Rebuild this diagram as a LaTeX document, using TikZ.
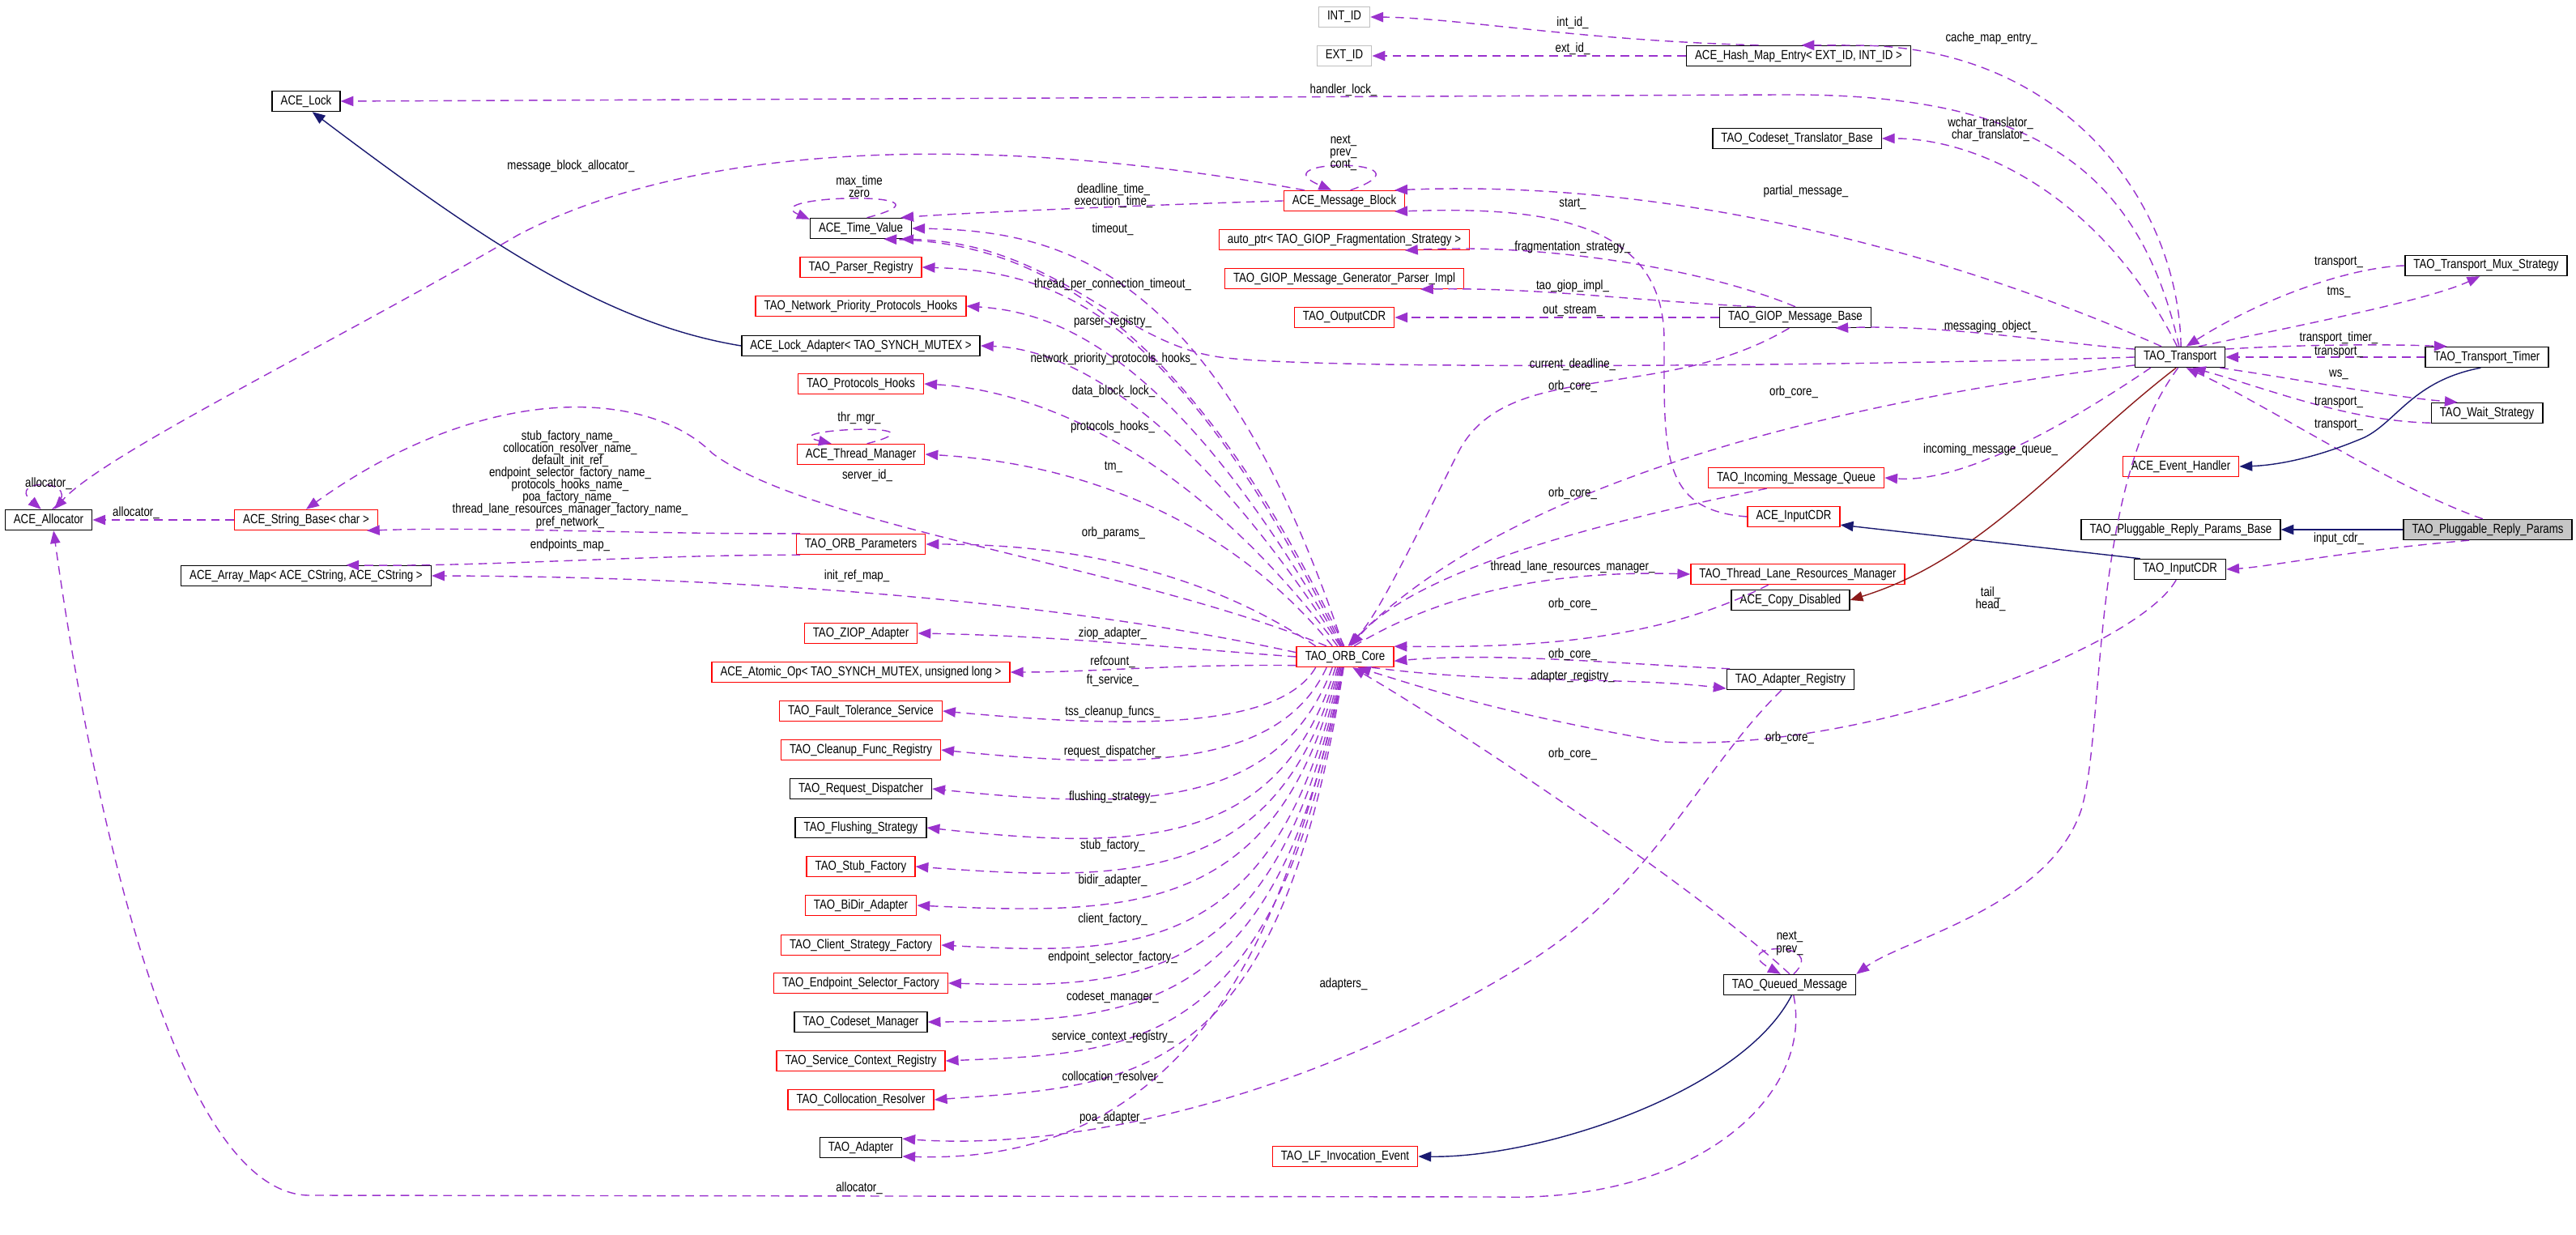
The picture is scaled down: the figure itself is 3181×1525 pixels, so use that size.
\documentclass[tikz,border=0pt]{standalone}
\usepackage{fontspec}
\setmainfont{Liberation Sans}[FakeStretch=0.82]
\usetikzlibrary{arrows.meta}
\definecolor{usec}{HTML}{9A32CD}
\definecolor{inh}{HTML}{191970}
\definecolor{priv}{HTML}{8B1A1A}
\tikzset{
 box/.style={draw=black, line width=0.4pt, fill=white, inner xsep=3pt, inner ysep=0pt, minimum height=0.25cm, font=\fontsize{4.6}{5}\selectfont},
 rbox/.style={box, draw=red},
 gbox/.style={box, draw=gray!50},
 cur/.style={box, fill=gray!45},
 lbl/.style={inner sep=0pt, font=\fontsize{4.6}{4.3}\selectfont, align=center},
 uses/.style={draw=usec, line width=0.4pt, dash pattern=on 3pt off 2pt, -{Triangle[length=4.5pt,width=3.5pt]}},
 isa/.style={draw=inh, line width=0.4pt, -{Triangle[length=4.5pt,width=3.5pt]}},
 pisa/.style={draw=priv, line width=0.4pt, -{Triangle[length=4.5pt,width=3.5pt]}}
}
\AtBeginDocument{\catcode`\_=12 }
\begin{document}
\begin{tikzpicture}[x=0.01cm,y=-0.01cm]
\useasboundingbox (0,0) rectangle (3181,1525);
% nodes
\node[gbox] (INT) at (1660,21) {INT_ID};
\node[gbox] (EXT) at (1660,69) {EXT_ID};
\node[box] (hme) at (2221,69) {ACE_Hash_Map_Entry< EXT_ID, INT_ID >};
\node[box] (lock) at (378,125) {ACE_Lock};
\node[box] (ctb) at (2219,171) {TAO_Codeset_Translator_Base};
\node[rbox] (mb) at (1660,248) {ACE_Message_Block};
\node[box] (tv) at (1063,282) {ACE_Time_Value};
\node[rbox] (ap) at (1660,296) {auto_ptr< TAO_GIOP_Fragmentation_Strategy >};
\node[rbox] (pr) at (1063,330) {TAO_Parser_Registry};
\node[rbox] (gen) at (1660,344) {TAO_GIOP_Message_Generator_Parser_Impl};
\node[rbox] (npph) at (1063,378) {TAO_Network_Priority_Protocols_Hooks};
\node[rbox] (ocdr) at (1660,392) {TAO_OutputCDR};
\node[box] (gmb) at (2217,392) {TAO_GIOP_Message_Base};
\node[box] (la) at (1063,427) {ACE_Lock_Adapter< TAO_SYNCH_MUTEX >};
\node[box] (tr) at (2692,441) {TAO_Transport};
\node[box] (mux) at (3070,328) {TAO_Transport_Mux_Strategy};
\node[box] (tim) at (3071,441) {TAO_Transport_Timer};
\node[rbox] (ph) at (1063,474) {TAO_Protocols_Hooks};
\node[box] (ws) at (3071,510) {TAO_Wait_Strategy};
\node[rbox] (tm) at (1063,561) {ACE_Thread_Manager};
\node[rbox] (eh) at (2693,576) {ACE_Event_Handler};
\node[rbox] (imq) at (2218,590) {TAO_Incoming_Message_Queue};
\node[rbox] (aicdr) at (2215,638) {ACE_InputCDR};
\node[box] (alloc) at (60,642) {ACE_Allocator};
\node[rbox] (sb) at (378,642) {ACE_String_Base< char >};
\node[box] (prb) at (2693,654) {TAO_Pluggable_Reply_Params_Base};
\node[cur] (prp) at (3072,654) {TAO_Pluggable_Reply_Params};
\node[rbox] (op) at (1063,672) {TAO_ORB_Parameters};
\node[box] (icdr) at (2692,703) {TAO_InputCDR};
\node[rbox] (tlrm) at (2220,709) {TAO_Thread_Lane_Resources_Manager};
\node[box] (am) at (378,711) {ACE_Array_Map< ACE_CString, ACE_CString >};
\node[box] (cd) at (2211,741) {ACE_Copy_Disabled};
\node[rbox] (ziop) at (1063,782) {TAO_ZIOP_Adapter};
\node[rbox] (orb) at (1661,811) {TAO_ORB_Core};
\node[rbox] (atom) at (1063,830) {ACE_Atomic_Op< TAO_SYNCH_MUTEX, unsigned long >};
\node[box] (ar) at (2211,839) {TAO_Adapter_Registry};
\node[rbox] (ft) at (1063,878) {TAO_Fault_Tolerance_Service};
\node[rbox] (cfr) at (1063,926) {TAO_Cleanup_Func_Registry};
\node[box] (rd) at (1063,974) {TAO_Request_Dispatcher};
\node[box] (fs) at (1063,1022) {TAO_Flushing_Strategy};
\node[rbox] (sf) at (1063,1070) {TAO_Stub_Factory};
\node[rbox] (bd) at (1063,1118) {TAO_BiDir_Adapter};
\node[rbox] (csf) at (1063,1167) {TAO_Client_Strategy_Factory};
\node[rbox] (esf) at (1063,1214) {TAO_Endpoint_Selector_Factory};
\node[box] (cm) at (1063,1262) {TAO_Codeset_Manager};
\node[rbox] (scr) at (1063,1310) {TAO_Service_Context_Registry};
\node[rbox] (cr) at (1063,1358) {TAO_Collocation_Resolver};
\node[box] (ad) at (1063,1417) {TAO_Adapter};
\node[box] (qm) at (2210,1216) {TAO_Queued_Message};
\node[rbox] (lf) at (1661,1428) {TAO_LF_Invocation_Event};

% edges
\draw[uses] (hme.165) .. controls (1950,50) and (1800,22) .. (INT.east);
\draw[uses] (hme.west) -- (EXT.east);
\draw[uses] (tr.85) .. controls (2690,250) and (2550,56) .. (2290,56) -- (hme.75);
\draw[uses] (tr.95) .. controls (2640,200) and (2500,115) .. (2200,117) -- (lock.east);
\draw[uses] (tr.105) .. controls (2600,250) and (2450,171) .. (ctb.east);
\draw[uses] (mb.60) .. controls (1780,195) and (1550,195) .. (mb.140);
\draw[uses] (mb.165) .. controls (1200,160) and (850,180) .. (640,290) .. controls (400,430) and (130,560) .. (alloc.62);
\draw[uses] (mb.west) .. controls (1450,252) and (1200,262) .. (tv.15);
\draw[uses] (tv.60) .. controls (1200,235) and (930,240) .. (tv.170);
\draw[uses] (aicdr.west) .. controls (2050,630) and (2055,560) .. (2055,420) .. controls (2055,270) and (1900,255) .. (mb.-12);
\draw[uses] (tr.150) .. controls (2450,330) and (2100,220) .. (mb.12);
\draw[uses] (gmb.north) .. controls (2100,330) and (1900,300) .. (ap.-10);
\draw[uses] (gmb.165) .. controls (2000,370) and (1900,355) .. (gen.-8);
\draw[uses] (gmb.west) -- (ocdr.east);
\draw[uses] (gmb.-120) .. controls (2050,500) and (1860,440) .. (1800,560) .. controls (1730,700) and (1700,760) .. (orb.70);
\draw[uses] (tr.170) .. controls (2550,425) and (2400,400) .. (gmb.-15);
\draw[uses] (tr.west) .. controls (2300,452) and (1600,458) .. (1500,440) .. controls (1380,420) and (1300,300) .. (tv.-15);
\draw[uses] (tr.190) .. controls (2400,480) and (1900,560) .. (orb.75);
\draw[uses] (tr.-160) .. controls (2500,560) and (2400,595) .. (imq.east);
\draw[pisa] (tr.-110) .. controls (2550,560) and (2450,690) .. (cd.east);
\draw[uses] (tr.-100) .. controls (2580,600) and (2600,900) .. (2570,1000) .. controls (2530,1120) and (2350,1160) .. (qm.north east);
\draw[uses] (imq.-160) .. controls (2000,640) and (1750,700) .. (orb.62);
\draw[uses] (orb.50) .. controls (1800,720) and (1950,705) .. (tlrm.west);
\draw[uses] (tlrm.-160) .. controls (2050,790) and (1900,800) .. (orb.12);
\draw[uses] (ar.170) .. controls (2000,820) and (1850,805) .. (orb.-5);
\draw[uses] (orb.-22) .. controls (1850,845) and (2000,835) .. (ar.-172);
\draw[uses] (icdr.-110) .. controls (2640,800) and (2300,930) .. (2054,916) .. controls (1850,880) and (1760,850) .. (orb.-40);
\draw[uses] (qm.north) .. controls (2100,1100) and (1800,900) .. (orb.-55);
\draw[uses] (ar.-130) .. controls (2100,950) and (2050,1080) .. (1900,1180) .. controls (1600,1370) and (1300,1420) .. (ad.12);
\draw[uses] (orb.-100) .. controls (1600,1100) and (1500,1440) .. (ad.-12);
\draw[uses] (qm.-70) .. controls (2240,1350) and (2100,1485) .. (1850,1478) -- (380,1476) .. controls (200,1470) and (100,900) .. (alloc.-65);
\draw[uses] (qm.70) .. controls (2260,1160) and (2130,1165) .. (qm.130);
\draw[isa] (qm.-80) .. controls (2150,1350) and (1900,1430) .. (lf.east);
\draw[uses] (mux.west) .. controls (2900,330) and (2790,370) .. (tr.60);
\draw[uses] (tr.30) .. controls (2850,400) and (3000,370) .. (mux.-120);
\draw[uses] (tr.10) .. controls (2850,425) and (2950,425) .. (tim.165);
\draw[uses] (tim.west) -- (tr.east);
\draw[uses] (tr.-15) .. controls (2850,470) and (2950,490) .. (ws.160);
\draw[uses] (ws.190) .. controls (2900,520) and (2800,480) .. (tr.-40);
\draw[uses] (prp.115) .. controls (2950,600) and (2800,500) .. (tr.-60);
\draw[isa] (tim.-120) .. controls (2980,470) and (2960,520) .. (2920,540) .. controls (2850,570) and (2800,575) .. (eh.east);
\draw[isa] (prp.west) -- (prb.east);
\draw[uses] (prp.-150) .. controls (2900,680) and (2800,700) .. (icdr.east);
\draw[isa] (icdr.165) -- (aicdr.-10);
\draw[isa] (la.west) .. controls (750,400) and (600,300) .. (lock.-60);
\draw[uses] (sb.west) -- (alloc.east);
\draw[uses] (alloc.70) .. controls (110,590) and (5,590) .. (alloc.125);
\draw[uses] (op.170) .. controls (800,660) and (600,650) .. (sb.-10);
\draw[uses] (orb.150) .. controls (1400,700) and (1000,650) .. (880,560) .. controls (800,480) and (600,470) .. (sb.north);
\draw[uses] (op.-170) .. controls (800,685) and (600,700) .. (am.15);
\draw[uses] (orb.175) .. controls (1300,740) and (900,712) .. (am.east);
\draw[uses] (orb.160) .. controls (1450,680) and (1250,672) .. (op.east);
\draw[uses] (orb.140) .. controls (1500,620) and (1300,570) .. (tm.east);
\draw[uses] (tm.60) .. controls (1180,520) and (950,530) .. (tm.160);
\draw[uses] (orb.125) .. controls (1450,530) and (1250,480) .. (ph.east);
\draw[uses] (orb.115) .. controls (1450,480) and (1300,430) .. (la.east);
\draw[uses] (orb.110) .. controls (1450,430) and (1300,385) .. (npph.east);
\draw[uses] (orb.105) .. controls (1450,380) and (1300,335) .. (pr.east);
\draw[uses] (orb.100) .. controls (1500,320) and (1300,285) .. (tv.east);
\draw[uses] (orb.95) .. controls (1450,360) and (1250,300) .. (tv.-25);
\draw[uses] (orb.west) .. controls (1450,800) and (1300,785) .. (ziop.east);
\draw[uses] (orb.190) .. controls (1450,820) and (1350,830) .. (atom.east);
\foreach \n/\a/\c in {ft/200/900, cfr/210/950, rd/220/1000, fs/228/1050, sf/235/1090, bd/240/1130, csf/245/1180, esf/250/1220, cm/255/1260, scr/258/1300, cr/262/1340} {
 \draw[uses] (orb.\a) .. controls (1580,\c) and (1400,\c) .. (\n.east);
}

% labels
\node[lbl] at (1942,28) {int_id_};
\node[lbl] at (1942,60) {ext_id_};
\node[lbl] at (2459,47) {cache_map_entry_};
\node[lbl] at (1659,111) {handler_lock_};
\node[lbl] at (2458,160) {wchar_translator_\\char_translator_};
\node[lbl] at (1659,189) {next_\\prev_\\cont_};
\node[lbl] at (705,205) {message_block_allocator_};
\node[lbl] at (1061,230) {max_time\\zero};
\node[lbl] at (1375,242) {deadline_time_\\execution_time_};
\node[lbl] at (2230,236) {partial_message_};
\node[lbl] at (1942,252) {start_};
\node[lbl] at (1374,283) {timeout_};
\node[lbl] at (1942,305) {fragmentation_strategy_};
\node[lbl] at (2888,324) {transport_};
\node[lbl] at (1374,351) {thread_per_connection_timeout_};
\node[lbl] at (1942,353) {tao_giop_impl_};
\node[lbl] at (2888,361) {tms_};
\node[lbl] at (1942,384) {out_stream_};
\node[lbl] at (1374,397) {parser_registry_};
\node[lbl] at (2458,403) {messaging_object_};
\node[lbl] at (2888,417) {transport_timer_};
\node[lbl] at (2888,435) {transport_};
\node[lbl] at (1375,443) {network_priority_protocols_hooks_};
\node[lbl] at (1942,450) {current_deadline_};
\node[lbl] at (2888,463) {ws_};
\node[lbl] at (1942,477) {orb_core_};
\node[lbl] at (2215,484) {orb_core_};
\node[lbl] at (1375,483) {data_block_lock_};
\node[lbl] at (2888,497) {transport_};
\node[lbl] at (1061,516) {thr_mgr_};
\node[lbl] at (2888,525) {transport_};
\node[lbl] at (1374,527) {protocols_hooks_};
\node[lbl] at (2458,555) {incoming_message_queue_};
\node[lbl] at (1375,577) {tm_};
\node[lbl] at (1071,587) {server_id_};
\node[lbl] at (60,597) {allocator_};
\node[lbl] at (704,592) {stub_factory_name_\\collocation_resolver_name_\\default_init_ref_\\endpoint_selector_factory_name_\\protocols_hooks_name_\\poa_factory_name_\\thread_lane_resources_manager_factory_name_\\pref_network_};
\node[lbl] at (1942,609) {orb_core_};
\node[lbl] at (168,633) {allocator_};
\node[lbl] at (1375,658) {orb_params_};
\node[lbl] at (2888,665) {input_cdr_};
\node[lbl] at (704,673) {endpoints_map_};
\node[lbl] at (1942,700) {thread_lane_resources_manager_};
\node[lbl] at (1058,711) {init_ref_map_};
\node[lbl] at (2458,740) {tail_\\head_};
\node[lbl] at (1942,746) {orb_core_};
\node[lbl] at (1374,782) {ziop_adapter_};
\node[lbl] at (1942,808) {orb_core_};
\node[lbl] at (1374,817) {refcount_};
\node[lbl] at (1942,835) {adapter_registry_};
\node[lbl] at (1374,840) {ft_service_};
\node[lbl] at (1374,879) {tss_cleanup_funcs_};
\node[lbl] at (2210,911) {orb_core_};
\node[lbl] at (1374,928) {request_dispatcher_};
\node[lbl] at (1942,931) {orb_core_};
\node[lbl] at (1374,984) {flushing_strategy_};
\node[lbl] at (1374,1044) {stub_factory_};
\node[lbl] at (1374,1087) {bidir_adapter_};
\node[lbl] at (1374,1135) {client_factory_};
\node[lbl] at (2210,1165) {next_\\prev_};
\node[lbl] at (1374,1182) {endpoint_selector_factory_};
\node[lbl] at (1659,1215) {adapters_};
\node[lbl] at (1374,1231) {codeset_manager_};
\node[lbl] at (1374,1280) {service_context_registry_};
\node[lbl] at (1374,1330) {collocation_resolver_};
\node[lbl] at (1374,1380) {poa_adapter_};
\node[lbl] at (1061,1467) {allocator_};
\end{tikzpicture}
\end{document}
